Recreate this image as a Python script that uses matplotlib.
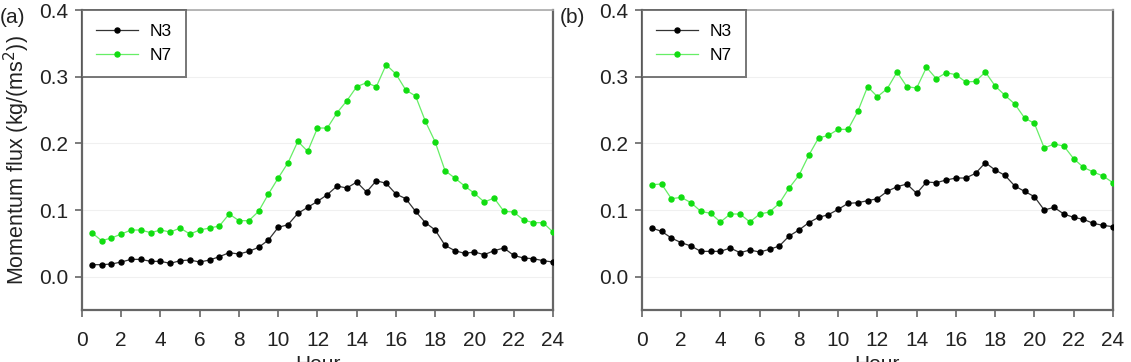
import numpy as np
import matplotlib
matplotlib.use("Agg")
import matplotlib.pyplot as plt

plt.rcParams["font.family"] = ["Liberation Sans", "DejaVu Sans"]

# hours of the day (half-hour steps)
hours = np.arange(1, 49) * 0.5

# panel (a)
a_n3 = [0.018, 0.018, 0.019, 0.022, 0.026, 0.026, 0.023, 0.023, 0.020, 0.024,
        0.025, 0.022, 0.025, 0.030, 0.036, 0.034, 0.038, 0.044, 0.055, 0.074,
        0.078, 0.095, 0.104, 0.113, 0.123, 0.136, 0.133, 0.142, 0.127, 0.144,
        0.140, 0.124, 0.117, 0.098, 0.081, 0.070, 0.047, 0.039, 0.035, 0.037,
        0.033, 0.039, 0.043, 0.032, 0.028, 0.027, 0.024, 0.022]
a_n7 = [0.066, 0.054, 0.058, 0.064, 0.070, 0.070, 0.066, 0.070, 0.067, 0.073,
        0.064, 0.070, 0.073, 0.076, 0.094, 0.084, 0.084, 0.098, 0.124, 0.148,
        0.171, 0.203, 0.188, 0.223, 0.223, 0.246, 0.264, 0.285, 0.291, 0.285,
        0.318, 0.304, 0.280, 0.271, 0.233, 0.202, 0.159, 0.148, 0.136, 0.125,
        0.112, 0.118, 0.098, 0.097, 0.085, 0.081, 0.081, 0.067]

# panel (b)
b_n3 = [0.073, 0.068, 0.058, 0.051, 0.046, 0.038, 0.038, 0.038, 0.043, 0.036,
        0.040, 0.037, 0.041, 0.046, 0.061, 0.070, 0.081, 0.089, 0.093, 0.101,
        0.110, 0.111, 0.114, 0.117, 0.128, 0.135, 0.139, 0.125, 0.142, 0.141,
        0.145, 0.148, 0.148, 0.155, 0.171, 0.160, 0.152, 0.136, 0.128, 0.120,
        0.100, 0.104, 0.094, 0.089, 0.086, 0.080, 0.077, 0.075]
b_n7 = [0.138, 0.139, 0.117, 0.119, 0.111, 0.098, 0.095, 0.082, 0.094, 0.094,
        0.082, 0.094, 0.097, 0.110, 0.133, 0.152, 0.182, 0.208, 0.212, 0.221,
        0.221, 0.248, 0.285, 0.270, 0.282, 0.307, 0.285, 0.283, 0.314, 0.297,
        0.306, 0.303, 0.292, 0.293, 0.307, 0.286, 0.272, 0.259, 0.238, 0.230,
        0.193, 0.199, 0.196, 0.177, 0.164, 0.157, 0.151, 0.141]

panels = [("(a)", a_n3, a_n7), ("(b)", b_n3, b_n7)]
x_ticks = np.arange(0, 25, 2)
y_ticks = [0.0, 0.1, 0.2, 0.3, 0.4]

fig = plt.figure(figsize=(11.31, 3.62), dpi=100)
lefts = [0.0725, 0.5676]

for i, (tag, n3, n7) in enumerate(panels):
    ax = fig.add_axes([lefts[i], 0.1436, 0.4164, 0.8287])
    ax.plot(hours, n3, color="#333333", lw=0.9, marker="o", ms=3.6,
            mfc="black", mec="black", label="N3", zorder=3)
    ax.plot(hours, n7, color="#66ee66", lw=0.9, marker="o", ms=3.6,
            mfc="#11dd11", mec="#11dd11", label="N7", zorder=3)

    ax.set_xlim(0, 24)
    ax.set_ylim(-0.05, 0.4)
    ax.set_xticks(x_ticks)
    ax.set_yticks(y_ticks)
    ax.set_yticklabels([f"{v:.1f}" for v in y_ticks])
    ax.yaxis.grid(True, color="#f0f0f0", lw=0.8)
    ax.set_axisbelow(True)

    for side in ["left", "bottom", "right"]:
        ax.spines[side].set_color("#666666")
        ax.spines[side].set_linewidth(1.6)
    ax.spines["top"].set_color("#aaaaaa")
    ax.spines["top"].set_linestyle((0, (1, 1)))
    ax.spines["top"].set_linewidth(1.2)

    ax.tick_params(axis="x", direction="out", length=5, width=1.2,
                   color="#666666", pad=10, labelsize=15, labelcolor="#222222")
    ax.tick_params(axis="y", direction="out", length=5, width=1.2,
                   color="#666666", pad=5, labelsize=15, labelcolor="#222222")
    ax.tick_params(axis="y", which="both", right=False)

    ax.set_xlabel("Hour", fontsize=15, color="#222222", labelpad=4)
    if i == 0:
        ax.set_ylabel("Momentum flux (kg/(ms$^2$))", fontsize=15.5,
                      color="#222222", labelpad=5)

    leg = ax.legend(loc="upper left", bbox_to_anchor=(0, 1), borderaxespad=0,
                    fontsize=12.5, frameon=True, fancybox=False,
                    handlelength=2.4, handletextpad=0.7, borderpad=0.8,
                    labelspacing=0.5)
    leg.get_frame().set_edgecolor("#555555")
    leg.get_frame().set_linewidth(1.4)

    ax.text(-0.175, 0.975, tag, transform=ax.transAxes, fontsize=15,
            color="#222222", ha="left", va="center")

fig.savefig("out.png", dpi=100)
